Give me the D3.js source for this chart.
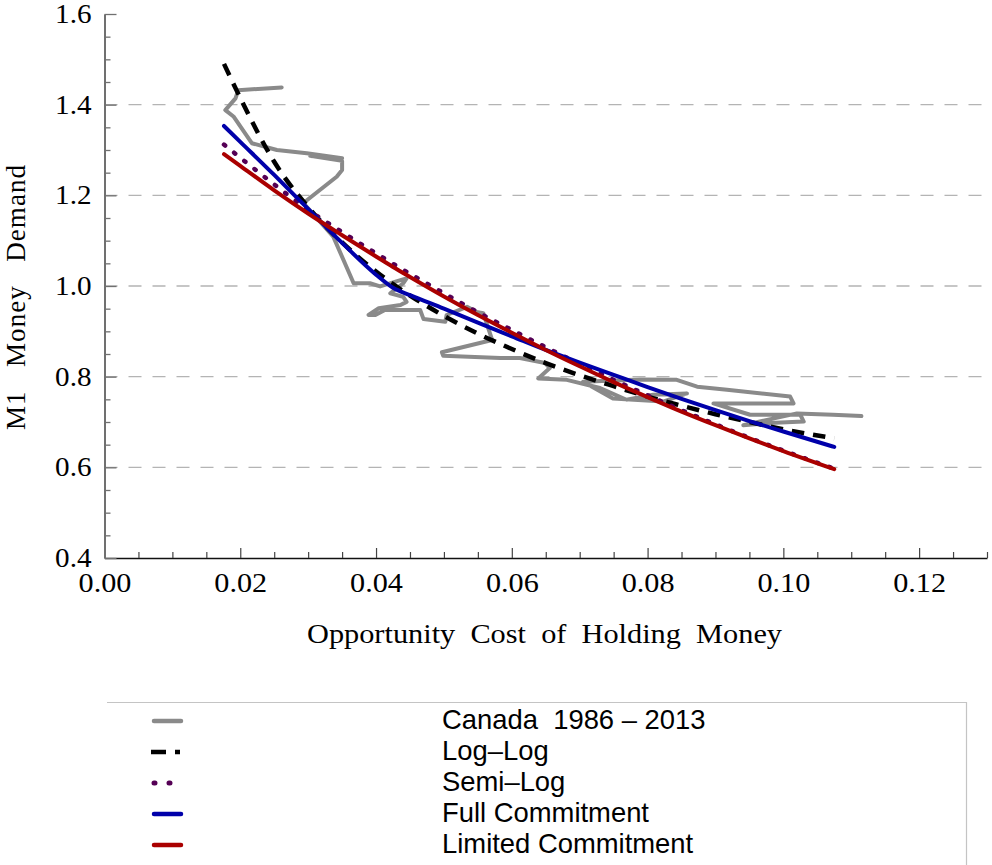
<!DOCTYPE html>
<meta charset="utf-8">
<style>
body { margin: 0; background: #fff; }
svg { display: block; }
.tick text { font-family: "Liberation Serif", "Times New Roman", serif; font-size: 26.5px; fill: #000; }
.xaxis .tick text { transform-box: fill-box; transform-origin: 50% 50%; transform: scaleX(1.14); }
.yaxis .tick text { transform-box: fill-box; transform-origin: 100% 50%; transform: scaleX(1.1); }
.label { font-family: "Liberation Serif", "Times New Roman", serif; font-size: 27px; white-space: pre; }
.legend text { font-family: "Liberation Sans", Arial, sans-serif; font-size: 27.4px; white-space: pre; }
</style>
<body>
<svg width="992" height="865"></svg>
<script src="https://d3js.org/d3.v7.min.js"></script>
<script>

// Canada 1986 - 2013 (opportunity cost, M1 / GDP)
var canadaX = [0.0261,0.0197,0.0193,0.0178,0.0190,0.0217,0.0254,0.0298,0.0350,0.0303,
               0.0350,0.0350,0.0342,0.0293,0.0337,0.0367,0.0391,0.0406,0.0436,0.0445,
               0.0440,0.0421,0.0440,0.0445,0.0436,0.0404,0.0389,0.0399,0.0413,0.0445,
               0.0465,0.0470,0.0502,0.0504,0.0534,0.0548,0.0558,0.0571,0.0497,0.0499,
               0.0583,0.0612,0.0649,0.0656,0.0639,0.0681,0.0730,0.0769,0.0808,0.0858,
               0.0823,0.0749,0.0705,0.0789,0.0843,0.0873,0.0917,0.1010,0.1015,0.0980,
               0.0897,0.0951,0.1025,0.1030,0.0980,0.0941,0.1020,0.1073,0.1115];
var canadaY = [1.438,1.432,1.414,1.388,1.374,1.315,1.300,1.293,1.282,1.287,
               1.276,1.256,1.241,1.183,1.109,1.006,1.006,0.999,1.013,1.017,
               1.006,0.984,0.976,0.965,0.958,0.951,0.936,0.936,0.947,0.947,
               0.947,0.927,0.921,0.936,0.954,0.943,0.940,0.881,0.854,0.846,
               0.841,0.841,0.830,0.819,0.796,0.793,0.775,0.749,0.760,0.763,
               0.745,0.752,0.789,0.794,0.793,0.778,0.771,0.756,0.741,0.741,
               0.741,0.716,0.716,0.701,0.698,0.693,0.719,0.716,0.713];

// fitted curves, read at these opportunity costs
var fitX          = [0.0176,0.02,0.025,0.03,0.035,0.04,0.0425,0.045,0.05,0.055,0.06,0.065,0.07,0.075,0.08,0.085,0.09,0.095,0.1,0.1075];
var logLog        = [1.490,1.415,1.274,1.174,1.096,1.032,1.004,0.979,0.934,0.895,0.861,0.830,0.803,0.779,0.756,0.736,0.717,0.700,0.684,0.664];
var semiLog       = [1.312,1.283,1.224,1.168,1.119,1.072,1.049,1.027,0.984,0.942,0.903,0.865,0.828,0.793,0.759,0.726,0.695,0.665,0.637,0.597];
var fullCommit    = [1.353,1.318,1.245,1.170,1.095,1.025,0.996,0.980,0.950,0.919,0.889,0.859,0.831,0.804,0.777,0.751,0.726,0.702,0.679,0.645];
var limitedCommit = [1.291,1.265,1.211,1.160,1.112,1.065,1.042,1.020,0.977,0.936,0.897,0.859,0.823,0.788,0.755,0.723,0.693,0.664,0.636,0.596];

var xTicks = [0, 0.02, 0.04, 0.06, 0.08, 0.10, 0.12];
var yTicks = [0.4, 0.6, 0.8, 1.0, 1.2, 1.4, 1.6];
var gridValues = [0.6, 0.8, 1.0, 1.2, 1.4];
var legendLabels = ["Canada  1986 \u2013 2013", "Log\u2013Log", "Semi\u2013Log", "Full Commitment", "Limited Commitment"];

var svg = d3.select("svg");
var xScale = d3.scaleLinear().domain([0, 0.13]).range([104.5, 987]);
var yScale = d3.scaleLinear().domain([0.4, 1.6]).range([558, 14]);

var xMinor = d3.range(1, 27).map(function(i) { return i * 0.005; })
    .filter(function(v) { return Math.abs(v / 0.02 - Math.round(v / 0.02)) > 1e-6; });
var yMinor = d3.range(0, 25).map(function(i) { return 0.4 + i * 0.05; })
    .filter(function(v) { return Math.abs((v - 0.4) / 0.2 - Math.round((v - 0.4) / 0.2)) > 1e-6; });

// dashed grid
svg.append("g").selectAll("line")
    .data(gridValues)
    .enter().append("line")
    .attr("x1", xScale(0)).attr("x2", xScale(0.13))
    .attr("y1", function(d) { return yScale(d); })
    .attr("y2", function(d) { return yScale(d); })
    .attr("stroke", "#b4b4b4")
    .attr("stroke-width", 1.3)
    .attr("stroke-dasharray", "13,11");

// axes
var gx = svg.append("g").attr("class", "xaxis")
    .attr("transform", "translate(0," + yScale(0.4) + ")")
    .call(d3.axisBottom(xScale).tickValues(xTicks).tickSizeInner(-10).tickSizeOuter(0)
        .tickPadding(15).tickFormat(d3.format(".2f")));
gx.select(".domain").attr("stroke", "#111").attr("stroke-width", 1.6);
gx.selectAll(".tick line").attr("stroke", "#444").attr("stroke-width", 1.2);

var gxm = svg.append("g")
    .attr("transform", "translate(0," + yScale(0.4) + ")")
    .call(d3.axisBottom(xScale).tickValues(xMinor).tickSizeInner(-6).tickSizeOuter(0).tickFormat(""));
gxm.select(".domain").remove();
gxm.selectAll(".tick line").attr("stroke", "#444").attr("stroke-width", 1.2);

var gy = svg.append("g").attr("class", "yaxis")
    .attr("transform", "translate(" + xScale(0) + ",0)")
    .call(d3.axisLeft(yScale).tickValues(yTicks).tickSizeInner(-12).tickSizeOuter(0)
        .tickPadding(13).tickFormat(d3.format(".1f")));
gy.select(".domain").attr("stroke", "#707070").attr("stroke-width", 2);
gy.selectAll(".tick line").attr("stroke", "#707070").attr("stroke-width", 1.3);

var gym = svg.append("g")
    .attr("transform", "translate(" + xScale(0) + ",0)")
    .call(d3.axisLeft(yScale).tickValues(yMinor).tickSizeInner(-6).tickSizeOuter(0).tickFormat(""));
gym.select(".domain").remove();
gym.selectAll(".tick line").attr("stroke", "#707070").attr("stroke-width", 1.3);

// series
var line = d3.line()
    .x(function(d) { return xScale(d[0]); })
    .y(function(d) { return yScale(d[1]); });
var smooth = d3.line().curve(d3.curveMonotoneX)
    .x(function(d) { return xScale(d[0]); })
    .y(function(d) { return yScale(d[1]); });

var series = [
    { name: legendLabels[0], xs: canadaX, ys: canadaY, color: "#8a8a8a", width: 4, dash: null, cap: "round", gen: line },
    { name: legendLabels[1], xs: fitX, ys: logLog, color: "#000000", width: 4.5, dash: "12.5,9", cap: "butt", gen: smooth },
    { name: legendLabels[2], xs: fitX, ys: semiLog, color: "#550055", width: 4.5, dash: "1.5,11.5", cap: "round", gen: smooth },
    { name: legendLabels[3], xs: fitX, ys: fullCommit, color: "#0000aa", width: 4, dash: null, cap: "round", gen: smooth },
    { name: legendLabels[4], xs: fitX, ys: limitedCommit, color: "#aa0000", width: 4, dash: null, cap: "round", gen: smooth }
];

svg.append("g").selectAll("path")
    .data(series)
    .enter().append("path")
    .attr("d", function(s) { return s.gen(s.xs.map(function(x, i) { return [x, s.ys[i]]; })); })
    .attr("fill", "none")
    .attr("stroke", function(s) { return s.color; })
    .attr("stroke-width", function(s) { return s.width; })
    .attr("stroke-dasharray", function(s) { return s.dash; })
    .attr("stroke-linecap", function(s) { return s.cap; })
    .attr("stroke-linejoin", "round");

// axis labels
svg.append("text").attr("class", "label")
    .attr("x", 307).attr("y", 643)
    .attr("textLength", 475).attr("lengthAdjust", "spacingAndGlyphs")
    .text("Opportunity  Cost  of  Holding  Money");

svg.append("text").attr("class", "label")
    .attr("transform", "translate(25,430) rotate(-90)")
    .attr("textLength", 265).attr("lengthAdjust", "spacing")
    .text("M1   Money   Demand");

// legend
var lg = svg.append("g").attr("class", "legend");
lg.append("path")
    .attr("d", "M107,702.5H966.5V865")
    .attr("fill", "none").attr("stroke", "#c4c4c4").attr("stroke-width", 1.2);

var legendDash = [null, "15,9", "1,14", null, null];
var rows = lg.selectAll("g.row")
    .data(series)
    .enter().append("g").attr("class", "row")
    .attr("transform", function(s, i) { return "translate(0," + (721 + i * 31) + ")"; });
rows.append("line")
    .attr("x1", function(s, i) { return i === 1 ? 151 : 154; })
    .attr("x2", function(s, i) { return i === 1 ? 180 : (i === 2 ? 171 : 181); })
    .attr("stroke", function(s) { return s.color; })
    .attr("stroke-width", function(s, i) { return i === 2 ? 5 : 4.5; })
    .attr("stroke-linecap", function(s, i) { return i === 1 ? "butt" : "round"; })
    .attr("stroke-dasharray", function(s, i) { return legendDash[i]; });
rows.append("text")
    .attr("x", 442).attr("y", 8)
    .text(function(s) { return s.name; });

</script>
